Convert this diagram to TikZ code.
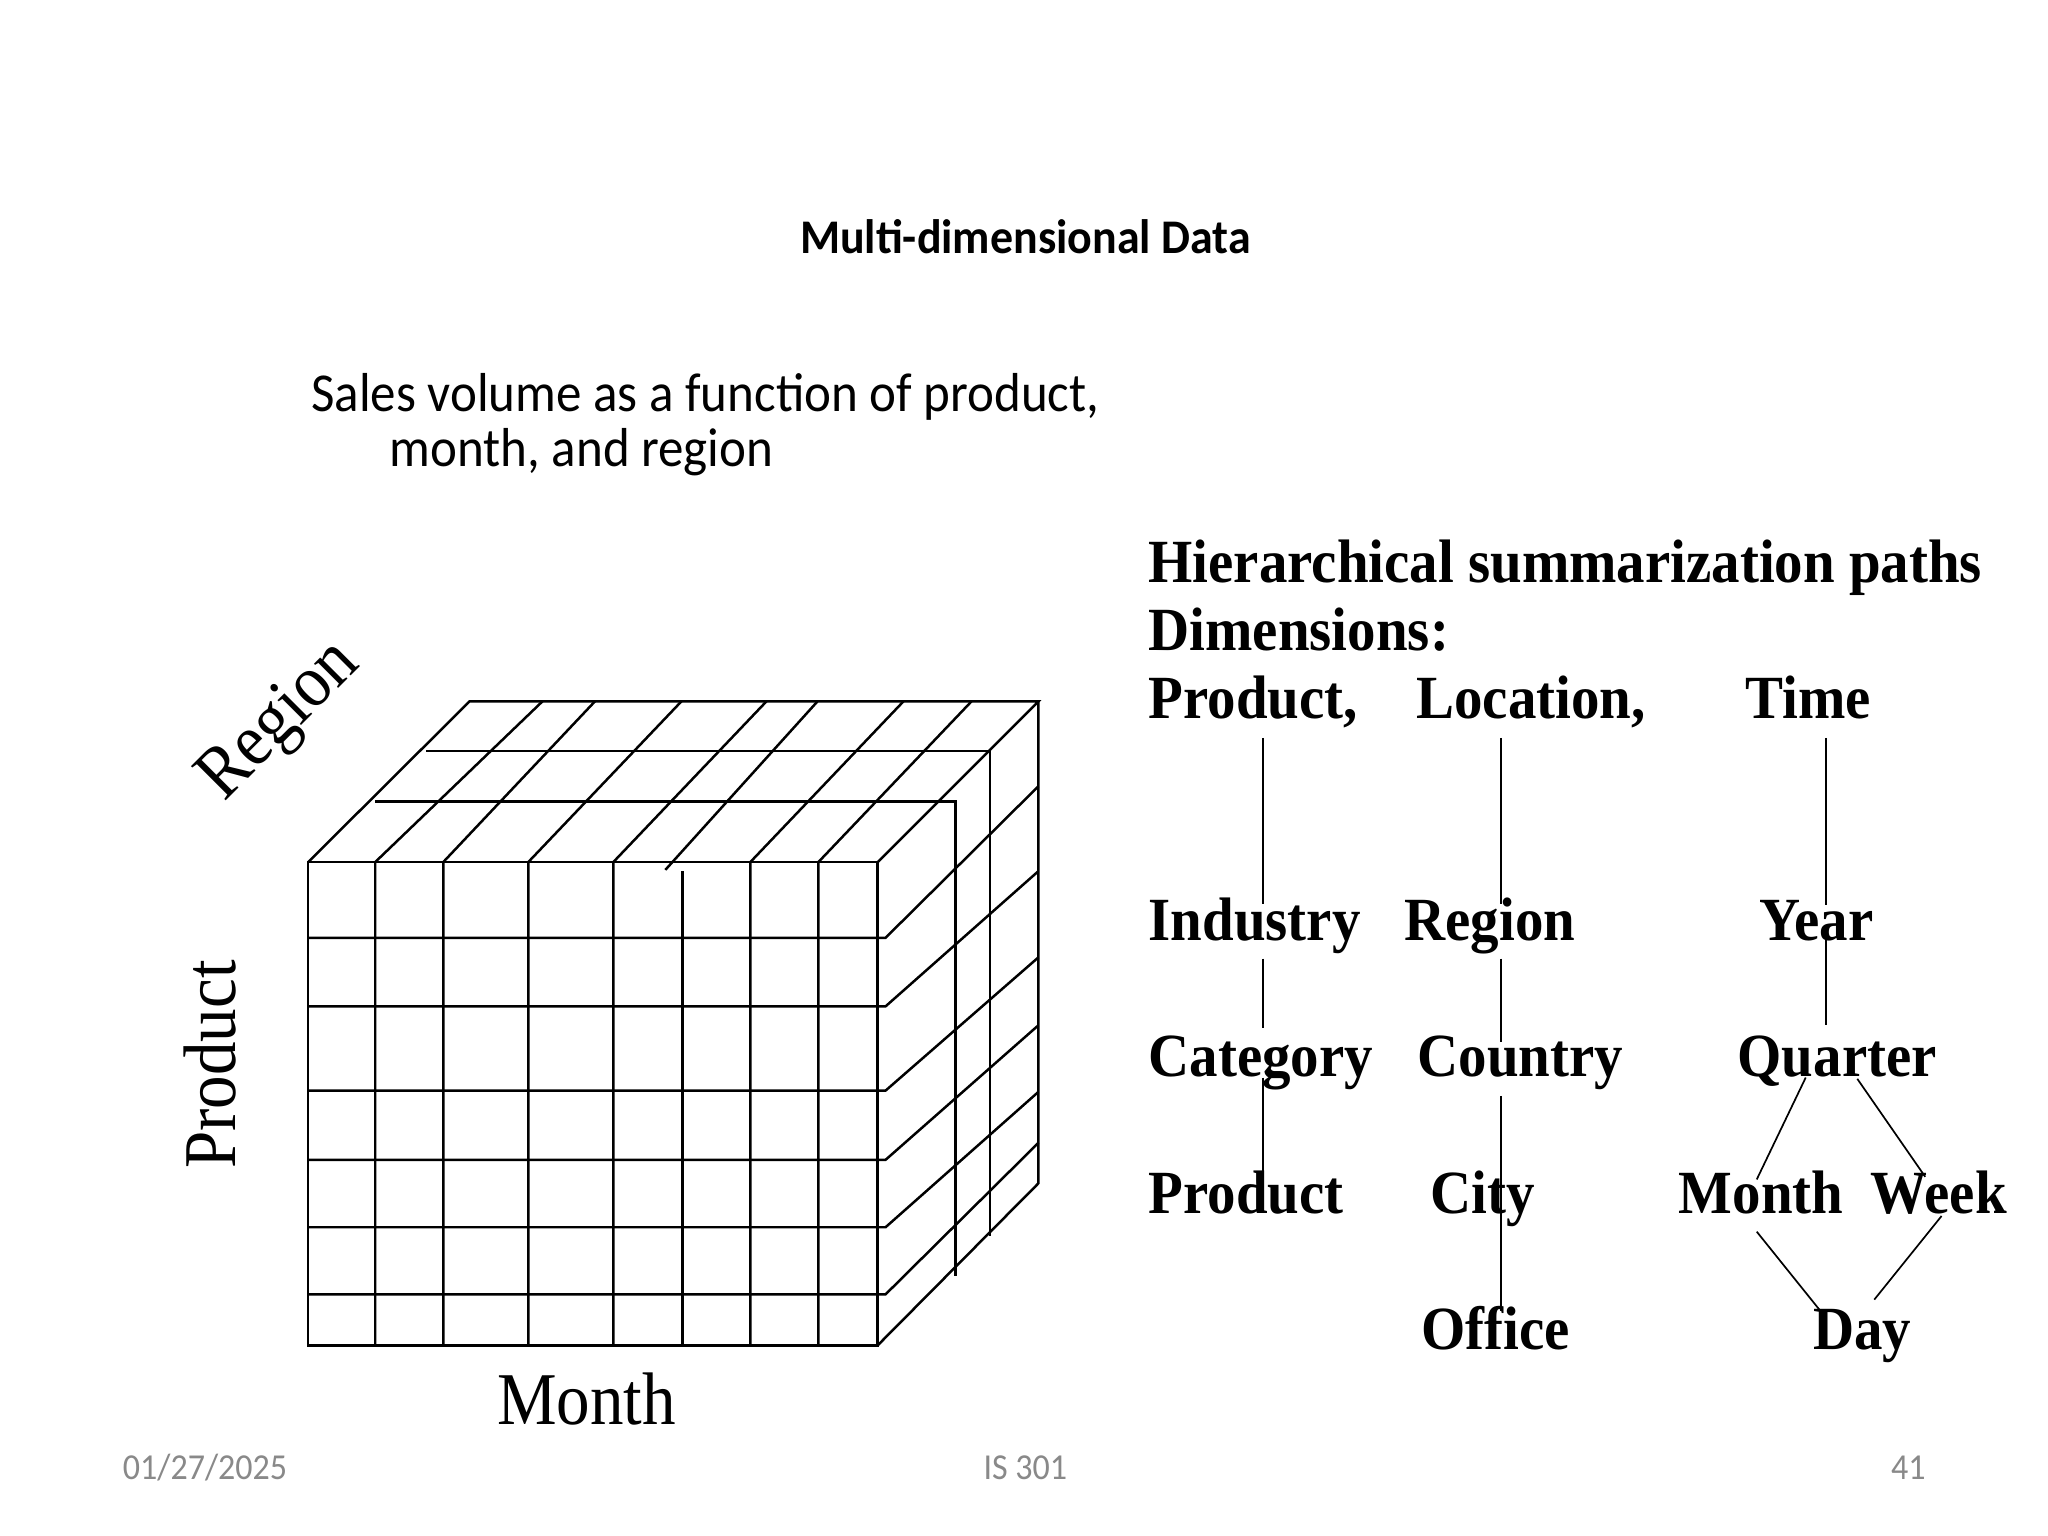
\documentclass[tikz,border=0pt]{standalone}
\usepackage{fontspec}
\setmainfont{Liberation Serif}
\newfontfamily\serifc[FakeStretch=0.9]{Liberation Serif}
\newfontfamily\serifr[FakeStretch=0.927]{Liberation Serif}
\newfontfamily\sansc[FakeStretch=0.93]{Carlito}
\newfontfamily\sanst[FakeStretch=0.95]{Carlito}
\usetikzlibrary{calc}
\definecolor{footgray}{RGB}{137,137,137}
\begin{document}
\begin{tikzpicture}[x=0.5pt,y=-0.5pt,
  cube/.style={line width=0.95pt},
  hline/.style={line width=0.65pt},
  rt/.style={anchor=base west,inner sep=0pt,font=\serifr\bfseries\fontsize{23.5}{28}\selectfont},
  axl/.style={inner sep=0pt,font=\serifc\fontsize{28.5}{34}\selectfont},
  sales/.style={anchor=base west,inner sep=0pt,font=\sansc\fontsize{21}{25}\selectfont},
  foot/.style={inner sep=0pt,anchor=base,text=footgray,font=\sansc\fontsize{14}{17}\selectfont}]
\fill[white] (0,0) rectangle (1568,1176);
\useasboundingbox (0,0) rectangle (1568,1176);

% title and caption
\node[anchor=base,inner sep=0pt,font=\sanst\bfseries\fontsize{18.5}{22}\selectfont] (title) at (785,194) {Multi-dimensional Data};
\node[sales] (sales1) at (238,315) {Sales volume as a function of product,};
\node[sales] (sales2) at (298,357) {month, and region};

% ---- cube ----
\draw[cube] (236,660) rectangle (672,1030);
\draw[cube] (236,660) -- (359.5,537) -- (795,537) -- (672,660);
\draw[cube] (795,537) -- (795,906) -- (672,1030);
% front horizontals continuing onto the right face
\foreach \yf/\yb in {718/602, 770.5/667, 835/733, 888/785, 939.6/836, 991/875}
  \draw[cube] (236,\yf) -- (678,\yf) -- (795,\yb);
% front verticals continuing onto the top face
\foreach \xf/\xb in {287.3/415.3, 339.4/455.5, 404.5/521.7, 469.6/586.8, 574.5/691.7, 626.6/743.8}
  \draw[cube] (\xb,537) -- (\xf,660) -- (\xf,1030);
\draw[cube] (625.9,537) -- (509.4,666);
\draw[cube] (522.4,667) -- (522.4,1030);
% depth lines
\draw[cube] (326.4,575) -- (758,575) -- (758,946);
\draw[cube] (287.3,613.6) -- (731.5,613.6) -- (731.5,977);

% axis labels
\node[axl,rotate=45] (lregion) at (215,553) {Region};
\node[axl,rotate=90] (lproduct) at (161,815) {Product};
\node[axl,anchor=base] (lmonth) at (449,1091) {Month};

% ---- hierarchies ----
\node[rt] (hsp) at (879,446) {Hierarchical summarization paths};
\node[rt] (dim) at (879,498) {Dimensions:};
\node[rt] (dprod) at (879,550) {Product,};
\node[rt] (dloc) at (1084,550) {Location,};
\node[rt] (dtime) at (1336,550) {Time};
\node[rt] (ind) at (879,720) {Industry};
\node[rt] (reg) at (1075,720) {Region};
\node[rt] (year) at (1347,720) {Year};
\node[rt] (cat) at (879,824) {Category};
\node[rt] (cty) at (1085,824) {Country};
\node[rt] (qtr) at (1330,824) {Quarter};
\node[rt] (prod) at (879,929) {Product};
\node[rt] (city) at (1095,929) {City};
\node[rt] (mon) at (1285,929) {Month};
\node[rt] (week) at (1432,929) {Week};
\node[rt] (off) at (1088,1033) {Office};
\node[rt] (day) at (1388,1033) {Day};

\coordinate (c1) at (967,0);
\coordinate (c2) at (1149,0);
\coordinate (c3) at (1398,0);

\draw[hline] ($(dprod.base -| c1)+(0,15)$) -- ($(ind.base -| c1)+(0,-28)$);
\draw[hline] ($(ind.base -| c1)+(0,14)$) -- ($(cat.base -| c1)+(0,-37)$);
\draw[hline] ($(cat.base -| c1)+(0,1)$) -- ($(prod.base -| c1)+(0,-29)$);

\draw[hline] ($(dloc.base -| c2)+(0,15)$) -- ($(reg.base -| c2)+(0,-28)$);
\draw[hline] ($(reg.base -| c2)+(0,14)$) -- ($(cty.base -| c2)+(0,-26)$);
\draw[hline] ($(cty.base -| c2)+(0,15)$) -- ($(off.base -| c2)+(0,-29)$);

\draw[hline] ($(dtime.base -| c3)+(0,15)$) -- ($(year.base -| c3)+(0,-27)$);
\draw[hline] ($(year.base -| c3)+(0,-2)$) -- ($(qtr.base -| c3)+(0,-39)$);

\draw[hline] ($(qtr.base west)+(52.5,1)$) -- ($(mon.base west)+(60,-26)$);
\draw[hline] ($(qtr.base west)+(92,2)$) -- ($(week.base west)+(42,-28)$);
\draw[hline] ($(mon.base west)+(60,14)$) -- ($(day.base west)+(6,-29)$);
\draw[hline] ($(week.base west)+(54.5,2)$) -- ($(day.base west)+(47,-38)$);

% footer
\node[foot] (fdate) at (157,1133) {01/27/2025};
\node[foot] (fcourse) at (785,1133) {IS 301};
\node[foot] (fpage) at (1461,1133) {41};
\end{tikzpicture}
\end{document}
